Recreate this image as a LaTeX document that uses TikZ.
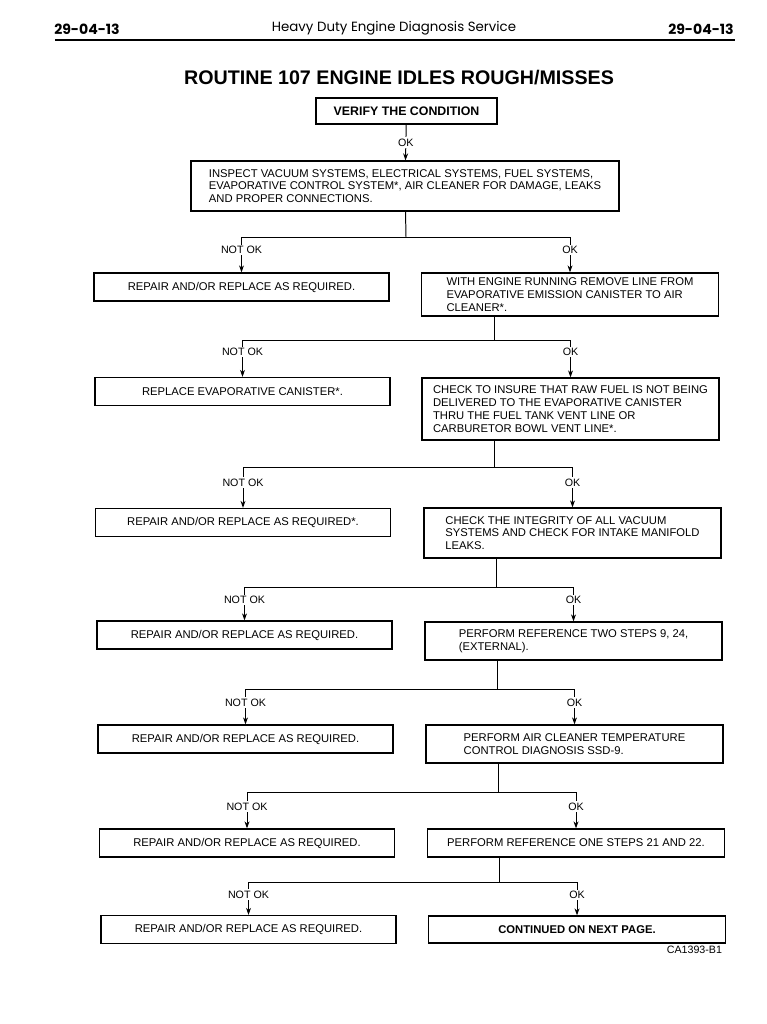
\documentclass[tikz,border=0pt]{standalone}
\usepackage{fontspec}
\setmainfont{Liberation Sans}
\newfontfamily\headfont{Poppins}
\usepackage{tikz}
\usetikzlibrary{arrows.meta}

\begin{document}
\begin{tikzpicture}[
    x=0.025cm, y=-0.025cm,
    box/.style={draw, line width=0.85pt, align=left, font=\fontsize{8}{9.1}\selectfont, inner sep=3pt},
    fixbox/.style={box, minimum width=7.375cm, minimum height=0.7cm, align=center},
    testbox/.style={box, minimum width=7.425cm},
    lbl/.style={fill=white, inner sep=1pt, font=\fontsize{7.6}{9}\selectfont},
    flow/.style={line width=0.7pt, -{Stealth[length=5pt, width=3.5pt]}}
]
    \useasboundingbox (0,0) rectangle (767,1024);

    % page header
    \node[font=\headfont\bfseries\fontsize{10}{12}\selectfont] (pgleft) at (87,29) {29-04-13};
    \node[font=\headfont\bfseries\fontsize{10}{12}\selectfont] (pgright) at (701,29) {29-04-13};
    \node[font=\headfont\fontsize{9.5}{12}\selectfont] (header) at (394,28) {Heavy Duty Engine Diagnosis Service};
    \draw[line width=1.1pt] (55,40) -- (735,40);

    \node[font=\bfseries\fontsize{14}{16}\selectfont] (title) at (399,78) {ROUTINE 107 ENGINE IDLES ROUGH/MISSES};

    \node[box, font=\bfseries\fontsize{8.8}{10}\selectfont, minimum width=4.525cm, minimum height=0.65cm] (verify) at (406.5,111) {VERIFY THE CONDITION};
    \node[box, minimum width=10.7cm, minimum height=1.25cm] (inspect) at (405,186) {INSPECT VACUUM SYSTEMS, ELECTRICAL SYSTEMS, FUEL SYSTEMS,\\EVAPORATIVE CONTROL SYSTEM*, AIR CLEANER FOR DAMAGE, LEAKS\\AND PROPER CONNECTIONS.};

    \node[fixbox] (fix1) at (241.5,287) {REPAIR AND/OR REPLACE AS REQUIRED.};
    \node[testbox, minimum height=1.075cm] (test1) at (570,294.5) {WITH ENGINE RUNNING REMOVE LINE FROM\\EVAPORATIVE EMISSION CANISTER TO AIR\\CLEANER*.};

    \node[fixbox] (fix2) at (242.5,391.5) {REPLACE EVAPORATIVE CANISTER*.};
    \node[testbox, minimum height=1.55cm] (test2) at (570.5,409) {CHECK TO INSURE THAT RAW FUEL IS NOT BEING\\DELIVERED TO THE EVAPORATIVE CANISTER\\THRU THE FUEL TANK VENT LINE OR\\CARBURETOR BOWL VENT LINE*.};

    \node[fixbox] (fix3) at (243,522.5) {REPAIR AND/OR REPLACE AS REQUIRED*.};
    \node[testbox, minimum height=1.25cm] (test3) at (572.5,533) {CHECK THE INTEGRITY OF ALL VACUUM\\SYSTEMS AND CHECK FOR INTAKE MANIFOLD\\LEAKS.};

    \node[fixbox] (fix4) at (244.5,635) {REPAIR AND/OR REPLACE AS REQUIRED.};
    \node[testbox, minimum height=0.95cm] (test4) at (573.5,641) {PERFORM REFERENCE TWO STEPS 9, 24,\\(EXTERNAL).};

    \node[fixbox] (fix5) at (245.5,739) {REPAIR AND/OR REPLACE AS REQUIRED.};
    \node[testbox, minimum height=0.95cm] (test5) at (574.5,744) {PERFORM AIR CLEANER TEMPERATURE\\CONTROL DIAGNOSIS SSD-9.};

    \node[fixbox] (fix6) at (247,843) {REPAIR AND/OR REPLACE AS REQUIRED.};
    \node[testbox, minimum height=0.7cm, align=center] (test6) at (576,843) {PERFORM REFERENCE ONE STEPS 21 AND 22.};

    \node[fixbox] (fix7) at (248.5,929.5) {REPAIR AND/OR REPLACE AS REQUIRED.};
    \node[testbox, minimum height=0.675cm, align=center, font=\bfseries\fontsize{8}{9}\selectfont] (next) at (577,929.5) {CONTINUED ON NEXT PAGE.};

    \node[anchor=east, font=\fontsize{7.6}{9}\selectfont] (figno) at (727,950) {CA1393-B1};

    % branch points
    \coordinate (j1) at (406,237);
    \coordinate (j2) at (494,340);
    \coordinate (j3) at (494,467);
    \coordinate (j4) at (496,587);
    \coordinate (j5) at (497,689);
    \coordinate (j6) at (498,792);
    \coordinate (j7) at (499,882);

    \draw[flow] (verify) -- node[lbl] {OK} (inspect);

    \draw[line width=0.7pt] (inspect) -- (j1);
    \draw[flow] (j1) -| node[lbl, pos=0.68] {NOT OK} (fix1);
    \draw[flow] (j1) -| node[lbl, pos=0.68] {OK} (test1);

    \draw[line width=0.7pt] (test1.south -| j2) -- (j2);
    \draw[flow] (j2) -| node[lbl, pos=0.66] {NOT OK} (fix2);
    \draw[flow] (j2) -| node[lbl, pos=0.66] {OK} (test2);

    \draw[line width=0.7pt] (test2.south -| j3) -- (j3);
    \draw[flow] (j3) -| node[lbl, pos=0.69] {NOT OK} (fix3);
    \draw[flow] (j3) -| node[lbl, pos=0.69] {OK} (test3);

    \draw[line width=0.7pt] (test3.south -| j4) -- (j4);
    \draw[flow] (j4) -| node[lbl, pos=0.69] {NOT OK} (fix4);
    \draw[flow] (j4) -| node[lbl, pos=0.69] {OK} (test4);

    \draw[line width=0.7pt] (test4.south -| j5) -- (j5);
    \draw[flow] (j5) -| node[lbl, pos=0.69] {NOT OK} (fix5);
    \draw[flow] (j5) -| node[lbl, pos=0.69] {OK} (test5);

    \draw[line width=0.7pt] (test5.south -| j6) -- (j6);
    \draw[flow] (j6) -| node[lbl, pos=0.70] {NOT OK} (fix6);
    \draw[flow] (j6) -| node[lbl, pos=0.70] {OK} (test6);

    \draw[line width=0.7pt] (test6.south -| j7) -- (j7);
    \draw[flow] (j7) -| node[lbl, pos=0.69] {NOT OK} (fix7);
    \draw[flow] (j7) -| node[lbl, pos=0.69] {OK} (next);
\end{tikzpicture}
\end{document}
